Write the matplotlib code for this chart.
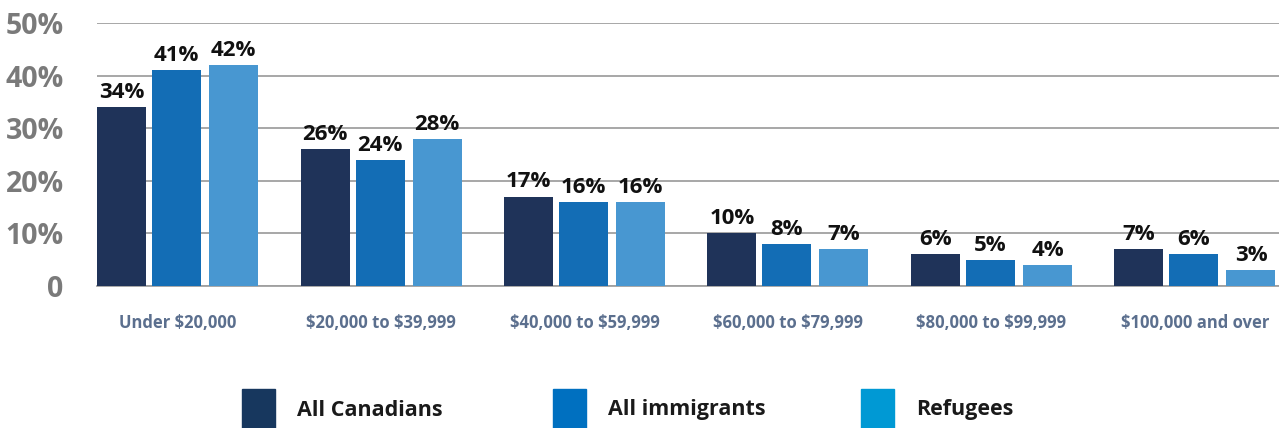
import matplotlib
matplotlib.use("Agg")
import matplotlib.pyplot as plt
from matplotlib.patches import Rectangle
import numpy as np

categories = ["Under $20,000", "$20,000 to $39,999", "$40,000 to $59,999",
              "$60,000 to $79,999", "$80,000 to $99,999", "$100,000 and over"]
series_names = ["All Canadians", "All immigrants", "Refugees"]
all_canadians = [34, 26, 17, 10, 6, 7]
all_immigrants = [41, 24, 16, 8, 5, 6]
refugees = [42, 28, 16, 7, 4, 3]
y_ticks = [0, 10, 20, 30, 40, 50]
y_ticklabels = ["0", "10%", "20%", "30%", "40%", "50%"]

bar_colors = ["#1f3359", "#136db5", "#4897d1"]
legend_colors = ["#17375e", "#0070c0", "#0099d4"]

plt.rcParams['font.family'] = ['Open Sans', 'DejaVu Sans']
plt.rcParams['text.parse_math'] = False

W, H = 1279, 428
fig = plt.figure(figsize=(W / 100, H / 100), dpi=100)
ax = fig.add_axes([97 / W, 1 - 286 / H, 1 - 97 / W, (286 - 23) / H])

pitch = 203.5
width = 49 / pitch
offsets = [0, 55 / pitch, 112 / pitch]
half = (112 + 49) / 2 / pitch
x = np.arange(len(categories))

for s, vals in enumerate([all_canadians, all_immigrants, refugees]):
    lefts = x - half + offsets[s]
    bars = ax.bar(lefts, vals, width=width, align='edge', color=bar_colors[s], zorder=3)
    for b, v in zip(bars, vals):
        ax.annotate(f"{v}%", (b.get_x() + b.get_width() / 2, b.get_height()),
                    xytext=(0, 3), textcoords='offset points', ha='center', va='bottom',
                    fontsize=16, fontweight='bold', color='#111111', zorder=4)

ax.set_xlim(-half, -half + (W - 97) / pitch)
ax.set_ylim(0, 50)
ax.set_yticks(y_ticks)
ax.set_yticklabels(y_ticklabels, fontsize=20.5, fontweight='bold', color='#7a7a7a')
ax.yaxis.grid(True, color='#a0a0a0', linewidth=1.3, zorder=0)
ax.set_axisbelow(True)
ax.tick_params(axis='y', length=0, pad=24)
ax.set_xticks(x)
ax.set_xticklabels(categories, fontsize=12, fontweight='bold', color='#5b6f8e')
ax.tick_params(axis='x', length=0, pad=20)
for sp in ['top', 'right', 'left']:
    ax.spines[sp].set_visible(False)
ax.spines['bottom'].set_color('#a0a0a0')
ax.spines['bottom'].set_linewidth(1.3)
ax.patch.set_alpha(0)

# legend
leg_x = [242, 553, 861]
for lx, name, c in zip(leg_x, series_names, legend_colors):
    fig.add_artist(Rectangle((lx / W, 0), 33 / W, (428 - 389) / H,
                             transform=fig.transFigure, color=c))
    fig.text((lx + 55) / W, 1 - 410 / H, name, fontsize=15.5, fontweight='bold',
             color='#1a1a1a', va='center', ha='left')

fig.savefig("out.png", dpi=100)
